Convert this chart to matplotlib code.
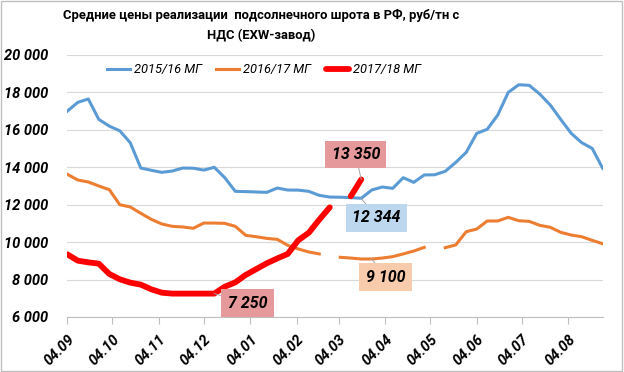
import numpy as np
import matplotlib.pyplot as plt
from matplotlib.patches import Rectangle

plt.rcParams['font.family'] = ['Roboto', 'DejaVu Sans']

nan = np.nan

# weekly observations starting 04.09
weeks = np.arange(52)
days = weeks * 7

mg_2015 = [17000, 17470, 17650, 16560, 16200, 15950, 15310, 13960, 13840, 13730,
           13800, 13960, 13950, 13850, 14000, 13445, 12715, 12700, 12680, 12660,
           12890, 12785, 12780, 12715, 12500, 12410, 12400, 12380, 12344, 12786,
           12946, 12875, 13445, 13195, 13590, 13600, 13785, 14260, 14800, 15815,
           16030, 16790, 18000, 18410, 18380, 17915, 17330, 16560, 15815, 15315,
           15010, 13945]

mg_2016 = [13625, 13320, 13215, 13000, 12805, 12000, 11880, 11540, 11220, 10970,
           10845, 10810, 10740, 11020, 11020, 11005, 10845, 10365, 10290, 10200,
           10150, 9830, 9635, 9475, 9370, nan, 9190, 9150, 9100, 9100,
           9150, 9225, 9370, 9525, 9720, nan, 9705, 9850, 10560, 10700,
           11130, 11130, 11325, 11145, 11110, 10900, 10795, 10525, 10380, 10290,
           10095, 9915]

mg_2017 = [9350, 9010, 8920, 8850, 8300, 8015, 7835, 7730, 7480, 7300,
           7250, 7250, 7250, 7250, 7250, 7620, 7850, 8250, 8560, 8870,
           9130, 9370, 10100, 10500, 11200, 11860, nan, 12450, 13350]

month_days = [0, 30, 61, 91, 122, 153, 181, 212, 242, 273, 303, 334]
month_labels = ['04.09', '04.10', '04.11', '04.12', '04.01', '04.02',
                '04.03', '04.04', '04.05', '04.06', '04.07', '04.08']

fig = plt.figure(figsize=(6.24, 3.72), dpi=100)
ax = fig.add_axes([67.3 / 624, 1 - 317 / 372, 535.4 / 624, 262 / 372])

ax.plot(days, mg_2015, color='#5B9BD5', lw=2.2, label='2015/16 МГ')
ax.plot(days, mg_2016, color='#ED7D31', lw=2.2, label='2016/17 МГ')
ax.plot(days[:len(mg_2017)], mg_2017, color='#FF0000', lw=4.2,
        solid_capstyle='round', label='2017/18 МГ')

ax.set_xlim(0, 357)
ax.set_ylim(6000, 20000)
ax.set_yticks(np.arange(6000, 20001, 2000))
ax.set_yticklabels([f'{v:,}'.replace(',', ' ') for v in range(6000, 20001, 2000)],
                   fontsize=10.5, style='italic', fontweight='bold')
ax.set_xticks(month_days)
ax.set_xticklabels(month_labels, rotation=45, fontsize=10.5, style='italic',
                   fontweight='bold', ha='right', va='top',
                   rotation_mode='anchor')
ax.tick_params(axis='y', length=0, pad=14)
ax.tick_params(axis='x', length=5, color='#BFBFBF', pad=6)
ax.grid(axis='y', color='#D9D9D9', lw=0.8)
ax.set_axisbelow(True)
for s in ['top', 'right', 'left']:
    ax.spines[s].set_visible(False)
ax.spines['bottom'].set_color('#BFBFBF')

# value callouts
def callout(x, y, text, dx, dy, fc):
    ax.annotate(text, xy=(x, y), xytext=(dx, dy), textcoords='offset points',
                ha='center', va='center', fontsize=11.5, fontweight='bold',
                style='italic',
                bbox=dict(boxstyle='square,pad=0.4', fc=fc, ec='none'),
                arrowprops=dict(arrowstyle='-', color='#A6A6A6', lw=0.7,
                                shrinkA=0, shrinkB=0))

callout(days[28], mg_2017[28], '13 350', -4, 18, '#E6999B')
callout(days[28], mg_2015[28], '12 344', 11, -14, '#BDD7EE')
callout(days[14], mg_2017[14], '7 250', 24, -7, '#E6999B')
callout(days[29], mg_2016[29], '9 100', 10, -13, '#F8CBAD')

ax.legend(loc='center', bbox_to_anchor=(0.367, 0.943), ncol=3, frameon=False,
          prop={'size': 9.3, 'style': 'italic'}, handlelength=1.8,
          columnspacing=1.1, handletextpad=0.3)

fig.text(261 / 624, 1 - 15 / 372,
         'Средние цены реализации  подсолнечного шрота в РФ, руб/тн с',
         ha='center', va='center', fontsize=9.4, fontweight='bold')
fig.text(261 / 624, 1 - 36 / 372, 'НДС (EXW-завод)',
         ha='center', va='center', fontsize=9.4, fontweight='bold')

fig.patches.append(Rectangle((0.002, 0.003), 0.995, 0.994, transform=fig.transFigure,
                             fill=False, ec='#BFBFBF', lw=1.0))

fig.savefig('out.png', dpi=100)
